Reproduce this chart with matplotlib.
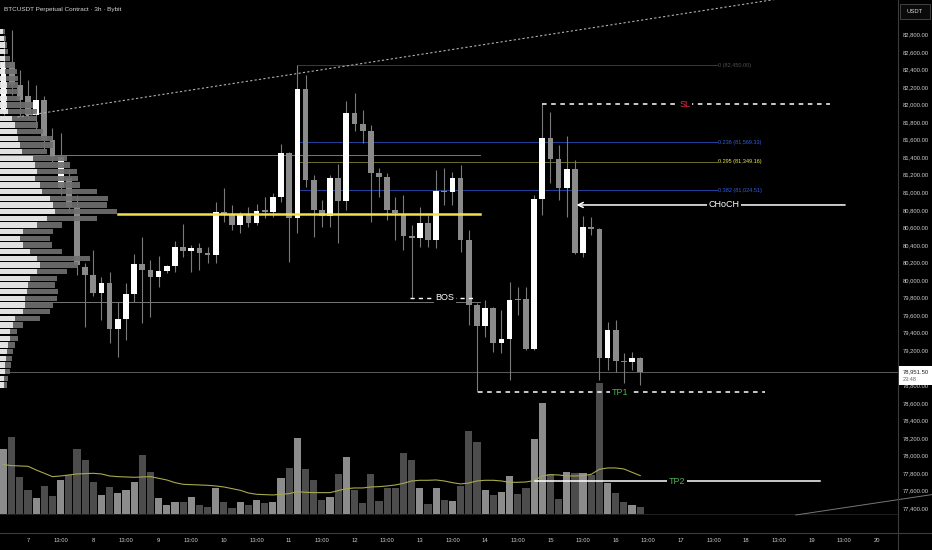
import numpy as np
import matplotlib
matplotlib.use('Agg')
import matplotlib.pyplot as plt
from matplotlib.patches import Rectangle
from matplotlib.lines import Line2D

plt.rcParams['font.family'] = ['Liberation Sans', 'DejaVu Sans']

# ---------------- data (3h candles, index 0 = day 8 00:00) ----------------
candle_index = list(range(-11, 68))
opens = [81937, 82484, 82222, 82100, 81880, 82050, 81595, 81048, 81162, 80832, 80148,
         80057, 79848, 79969, 79438, 79559, 79840, 80186, 80114, 80031, 80103,
         80156, 80373, 80334, 80361, 80311, 80285, 80775, 80741, 80627, 80752,
         80653, 80798, 80778, 80942, 81444, 80703, 82177, 81140, 80798, 80729,
         81166, 80904, 81907, 81778, 81701, 81216, 81177, 80798, 80741, 80501,
         80482, 80646, 80456, 81018, 80999, 81159, 80456, 79715, 79479, 79677,
         79285, 79328, 79783, 79780, 79210, 80920, 81622, 81376, 81052, 81262,
         80311, 80601, 80578, 79108, 79430, 79080, 79069, 79115]
highs = [82792, 82849, 82393, 82279, 82222, 82100, 81732, 81675, 81254, 80969, 80194,
         80342, 80038, 80095, 79753, 79966, 80296, 80487, 80228, 80274, 80171,
         80444, 80635, 80399, 80418, 80380, 80885, 81045, 80855, 80775, 80835,
         80866, 80949, 80988, 81550, 81460, 82450, 82336, 81197, 80912, 81197,
         81322, 82040, 82128, 81937, 81766, 81273, 81216, 80949, 80969, 80627,
         80835, 80741, 81254, 81276, 81234, 81311, 80570, 79738, 79772, 79696,
         79658, 79981, 79924, 79920, 80969, 82005, 81918, 81538, 81641, 81368,
         80729, 80721, 80593, 79525, 79544, 79168, 79183, 79126]
lows = [81880, 82108, 81846, 81823, 81709, 81481, 81345, 80969, 80775, 80057, 79464,
        79818, 79544, 79282, 79126, 79316, 79753, 79507, 79582, 79917, 80080,
        80095, 80259, 80095, 80114, 80190, 80190, 80661, 80570, 80532, 80607,
        80627, 80703, 80721, 80892, 80205, 80532, 81063, 80493, 80607, 80607,
        80418, 80798, 81701, 81558, 80664, 80949, 80684, 80456, 80342, 79795,
        80380, 80373, 80361, 80855, 80855, 80323, 79487, 78725, 79354, 79183,
        79165, 78860, 79601, 79200, 79200, 80741, 81102, 80912, 80721, 80300,
        80266, 80513, 78860, 78974, 78955, 78826, 78974, 78803]
closes = [82484, 82222, 82051, 81880, 82050, 81595, 81402, 81402, 80832, 80171, 80057,
          79852, 79969, 79438, 79559, 79840, 80186, 80114, 80031, 80103, 80156,
          80380, 80334, 80361, 80311, 80288, 80772, 80741, 80627, 80752, 80646,
          80790, 80772, 80942, 81444, 80703, 82177, 81140, 80798, 80729, 81166,
          80904, 81907, 81778, 81701, 81216, 81177, 80798, 80760, 80501, 80482,
          80646, 80456, 81018, 80999, 81159, 80456, 79715, 79479, 79677, 79285,
          79328, 79772, 79769, 79210, 80920, 81622, 81376, 81052, 81262, 80311,
          80607, 80581, 79108, 79430, 79080, 79066, 79108, 78951.5]
volumes = [1960, 2330, 1130, 740, 500, 850, 560, 1030, 1180, 1970, 1630,
           970, 580, 810, 630, 730, 970, 1770, 1280, 480, 280,
           360, 360, 520, 280, 230, 800, 380, 180, 380, 280,
           430, 330, 380, 1080, 1400, 2280, 1350, 1030, 430, 530,
           1210, 1730, 730, 350, 1200, 400, 800, 800, 1830, 1620,
           780, 320, 780, 440, 400, 860, 2510, 2180, 740, 580,
           660, 1150, 600, 780, 2250, 3330, 1210, 460, 1260, 1230,
           1230, 1180, 3940, 940, 640, 370, 270, 210]
volume_ma = [1490, 1460, 1450, 1440, 1330, 1230, 1130, 1150, 1180, 1210, 1220,
             1230, 1210, 1150, 1130, 1120, 1110, 1120, 1130, 1080, 1030,
             950, 900, 890, 880, 870, 850, 820, 770, 720, 640,
             600, 590, 580, 600, 620, 680, 660, 650, 650, 650,
             710, 770, 790, 790, 820, 830, 850, 880, 930, 1000,
             1020, 1020, 1030, 1000, 950, 910, 940, 1000, 1020, 1020,
             1000, 960, 960, 970, 1010, 1150, 1190, 1180, 1150, 1150,
             1160, 1200, 1350, 1390, 1390, 1360, 1260, 1160]

# visible-range volume profile (rows from 82,830 down, 76 per row)
profile_top, profile_step = 82830, 76
profile_up = [100, 120, 150, 150, 150, 150, 150, 170, 200, 200, 200, 220, 250, 350, 450,
              500, 550, 600, 650, 1000, 1050, 1100, 1050, 1200, 1250, 1500, 1600, 1650,
              1400, 1100, 700, 600, 700, 900, 1100, 1200, 1100, 900, 850, 800, 750, 750,
              700, 450, 400, 300, 300, 250, 200, 180, 160, 150, 130, 120]
profile_down = [50, 60, 50, 100, 150, 300, 350, 380, 350, 350, 400, 780, 850, 750, 700,
                800, 1000, 1000, 750, 1000, 1050, 1200, 1300, 1200, 1650, 1750, 1600, 1850,
                1500, 750, 900, 900, 850, 950, 1600, 1150, 900, 800, 800, 950, 950, 850,
                800, 750, 300, 200, 250, 200, 200, 170, 160, 150, 120, 80]
poc, vah, val = 80750, 81425, 79745

fib_levels = [82450.00, 81569.33, 81349.16, 81024.51]
fib_labels = ['0 (82,450.00)', '0.236 (81,569.33)', '0.295 (81,349.16)', '0.382 (81,024.51)']
sl_level, tp1_level, tp2_level = 82005, 78718.4, 77709
choch_level, bos_level = 80855, 79795
last_price = 78951.5

day_labels = ['7', '8', '9', '10', '11', '12', '13', '14', '15', '16', '17', '18', '19', '20']

# ---------------- figure ----------------
W, H = 932, 550
fig = plt.figure(figsize=(W / 100, H / 100), dpi=100, facecolor='black')
rect = [0, 17 / H, 898 / W, 533 / H]
axv = fig.add_axes(rect, zorder=0)
ax = fig.add_axes(rect, zorder=1, sharex=axv)
ax.patch.set_alpha(0)
axv.set_facecolor('black')

XMIN, XMAX = -11.43, 98.58
YMIN, YMAX = 77116.8, 83190.9
PX = 8.163  # pixels per candle

idx = np.array(candle_index, dtype=float)
o, h, l, c = map(np.array, (opens, highs, lows, closes))
up = c >= o

# volume pane
vol_cols = ['#8c8c8c' if u else '#4c4c4c' for u in up]
axv.bar(idx, volumes, width=0.88, color=vol_cols, zorder=1)
axv.plot(idx, volume_ma, color='#a8a84c', lw=0.8, zorder=2)
axv.axhline(0, color='#262626', lw=0.6)
axv.set_ylim(-561, 15429)
axv.set_xlim(XMIN, XMAX)
axv.tick_params(left=False, labelleft=False, bottom=False, labelbottom=False)
for s in axv.spines.values():
    s.set_visible(False)

# candles
bw = 0.70
for i in range(len(idx)):
    col = '#ffffff' if up[i] else '#8a8a8a'
    ax.vlines(idx[i], l[i], h[i], color='#7a7a7a', lw=0.8, zorder=3)
    bot = min(o[i], c[i])
    ht = max(abs(c[i] - o[i]), 12)
    ax.add_patch(Rectangle((idx[i] - bw / 2, bot), bw, ht, fc=col, ec='none', zorder=3.1))

# value area lines + POC
ax.plot([XMIN, 47.4], [vah, vah], color='#8a8a8a', lw=0.6, zorder=2)
ax.plot([XMIN, 47.4], [val, val], color='#8a8a8a', lw=0.6, zorder=2)
ax.plot([3.03, 47.4], [poc, poc], color='#f2e14c', lw=1.8, zorder=4.5)

# volume profile
prow = profile_top - profile_step * np.arange(len(profile_up))
scale = 1 / 30 / PX
pu = np.array(profile_up) * scale
pd_ = np.array(profile_down) * scale
ax.barh(prow, pu, left=XMIN, height=profile_step * 0.8, color='#ececec', alpha=0.96, zorder=5)
ax.barh(prow, pd_, left=XMIN + pu, height=profile_step * 0.8, color='#6e6e6e', alpha=0.93, zorder=5)

# current price line
ax.axhline(last_price, color='#6a6a6a', lw=0.6, zorder=2)

# dotted trend line & lower trend line
ax.plot([-9.3, 95], [81858, 83363], color='#b0b0b0', lw=0.8, ls=(0, (2, 2)), zorder=5.5)
ax.plot([86.06, 102.7], [77322, 77554], color='#777777', lw=0.7, zorder=2, clip_on=False)

# fibonacci
fib_line_cols = ['#3a3a3a', '#2440a0', '#6e6e2a', '#2440a0']
fib_text_cols = ['#505050', '#3060e0', '#e8e84a', '#3060e0']
for lev, lab, lc, tc in zip(fib_levels, fib_labels, fib_line_cols, fib_text_cols):
    ax.plot([25, 76.4], [lev, lev], color=lc, lw=0.7, zorder=2.5)
    ax.text(76.55, lev, lab, color=tc, fontsize=4, va='center', ha='left', zorder=6)

bb = dict(boxstyle='square,pad=0.2', fc='black', ec='none')
# SL
ax.plot([55, 90.2], [sl_level, sl_level], color='white', lw=1.1, ls=(0, (3, 3)), zorder=6)
ax.text(72.5, sl_level, 'SL', color='#e0324b', fontsize=6.5, ha='center', va='center', bbox=bb, zorder=7)
# CHoCH
ax.annotate('', xy=(59.2, choch_level), xytext=(92.1, choch_level),
            arrowprops=dict(arrowstyle='->', color='white', lw=1.1, mutation_scale=9,
                            shrinkA=0, shrinkB=0), zorder=6)
ax.text(77.26, choch_level, 'CHoCH', color='white', fontsize=6.5, ha='center', va='center', bbox=bb, zorder=7)
# BOS
ax.plot([38.8, 46.8], [bos_level, bos_level], color='white', lw=1.0, ls=(0, (3, 3)), zorder=6)
ax.text(43.1, bos_level, 'BOS', color='white', fontsize=6.5, ha='center', va='center', bbox=bb, zorder=7)
# TP1
ax.plot([47.1, 82.3], [tp1_level, tp1_level], color='white', lw=1.1, ls=(0, (3, 3)), zorder=6)
ax.text(64.5, tp1_level, 'TP1', color='#4caf50', fontsize=6.5, ha='center', va='center', bbox=bb, zorder=7)
# TP2
ax.plot([54.1, 89], [tp2_level, tp2_level], color='white', lw=1.1, zorder=6)
ax.text(71.5, tp2_level, 'TP2', color='#4caf50', fontsize=6.5, ha='center', va='center', bbox=bb, zorder=7)

# axes formatting
ax.set_xlim(XMIN, XMAX)
ax.set_ylim(YMIN, YMAX)
xt = np.arange(-8, 97, 4)
xl = [day_labels[k // 2] if k % 2 == 0 else '13:00' for k in range(len(xt))]
ax.set_xticks(xt)
ax.set_xticklabels(xl)
yt = np.arange(77400, 82801, 200)
ax.set_yticks(yt)
ax.set_yticklabels([f'{v:,.2f}' for v in yt])
ax.yaxis.tick_right()
ax.tick_params(axis='x', length=0, pad=3.5, labelsize=4.2, labelcolor='#cfcfcf')
ax.tick_params(axis='y', length=0, pad=3.5, labelsize=4.2, labelcolor='#cfcfcf')
for s in ax.spines.values():
    s.set_visible(False)

# separators
fig.add_artist(Line2D([898 / W, 898 / W], [0, 1], color='#3c3c3c', lw=0.8))
fig.add_artist(Line2D([0, 1], [17 / H, 17 / H], color='#3c3c3c', lw=0.8))

# title
fig.text(4 / W, 1 - 10 / H, 'BTCUSDT Perpetual Contract · 3h · Bybit', fontsize=4.6,
         color='#d8d8d8', va='center', ha='left')

# USDT box
fig.add_artist(Rectangle((900 / W, 1 - 19 / H), 30 / W, 15 / H, transform=fig.transFigure,
                         fc='#0a0a0a', ec='#4a4a4a', lw=0.6))
fig.text(915 / W, 1 - 11.5 / H, 'USDT', fontsize=4.2, color='#dddddd', ha='center', va='center')

# last price box
fig.add_artist(Rectangle((899 / W, 1 - 385 / H), 33 / W, 19 / H, transform=fig.transFigure,
                         fc='white', ec='none', zorder=10))
fig.text(903 / W, 1 - 372 / H, f'{last_price:,.2f}', fontsize=4.2, color='#222222',
         ha='left', va='center', zorder=11)
fig.text(903 / W, 1 - 379.5 / H, '23:48', fontsize=4.0, color='#666666',
         ha='left', va='center', zorder=11)

fig.savefig('out.png', dpi=100, facecolor='black')
